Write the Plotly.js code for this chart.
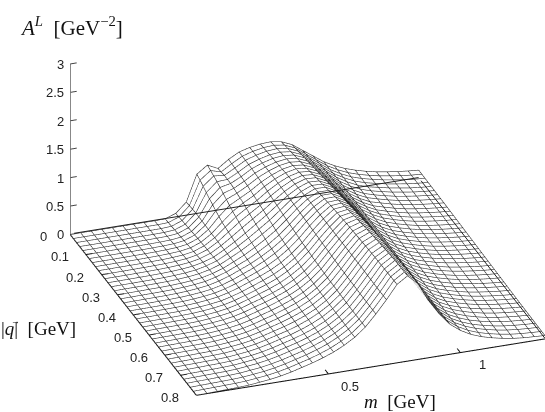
<!DOCTYPE html>
<html>
<head>
<meta charset="utf-8">
<script src="https://cdn.plot.ly/plotly-3.0.1.min.js"></script>
<style>
	html, body { margin: 0; padding: 0; background: #fff; }
	#graphic { width: 545px; height: 412px; }
</style>
</head>
<body>
<div id="graphic"></div>
<script>
var qValues = [0, 0.04, 0.08, 0.12, 0.16, 0.2, 0.24, 0.28, 0.32, 0.36, 0.4, 0.44, 0.48, 0.52, 0.56, 0.6, 0.64, 0.68, 0.72, 0.76, 0.8];
var qBetween = [0.02, 0.06, 0.1, 0.14, 0.18, 0.22, 0.26, 0.3, 0.34, 0.38, 0.42, 0.46, 0.5, 0.54, 0.58, 0.62, 0.66, 0.7, 0.74, 0.78];
var mValues = [0, 0.04, 0.08, 0.12, 0.16, 0.2, 0.24, 0.28, 0.32, 0.36, 0.4, 0.44, 0.48, 0.52, 0.56, 0.6, 0.64, 0.68, 0.72, 0.76, 0.8, 0.84, 0.88, 0.92, 0.96, 1, 1.04, 1.08, 1.12, 1.16, 1.2, 1.24, 1.28, 1.32];

// one line per m value, one column per q value
var spectral = [
	[0, 0, 0, 0, 0, 0, 0, 0, 0, 0, 0, 0, 0, 0, 0, 0, 0, 0, 0, 0, 0],
	[0, 0, 0, 0, 0.001, 0.001, 0.002, 0.002, 0.002, 0.003, 0.003, 0.003, 0.003, 0.004, 0.004, 0.004, 0.004, 0.005, 0.005, 0.005, 0.005],
	[0, 0, 0.001, 0.001, 0.002, 0.002, 0.003, 0.003, 0.004, 0.004, 0.005, 0.005, 0.006, 0.006, 0.007, 0.007, 0.008, 0.008, 0.009, 0.009, 0.01],
	[0, 0.001, 0.001, 0.002, 0.003, 0.004, 0.005, 0.005, 0.006, 0.007, 0.008, 0.008, 0.009, 0.01, 0.011, 0.011, 0.012, 0.013, 0.014, 0.014, 0.015],
	[0, 0.001, 0.002, 0.003, 0.005, 0.006, 0.007, 0.008, 0.009, 0.01, 0.011, 0.012, 0.013, 0.014, 0.015, 0.016, 0.017, 0.017, 0.018, 0.019, 0.02],
	[0, 0.001, 0.003, 0.005, 0.007, 0.009, 0.011, 0.012, 0.014, 0.015, 0.017, 0.018, 0.02, 0.021, 0.023, 0.024, 0.025, 0.026, 0.028, 0.029, 0.03],
	[0, 0.002, 0.004, 0.007, 0.011, 0.014, 0.018, 0.021, 0.024, 0.027, 0.03, 0.032, 0.035, 0.037, 0.039, 0.041, 0.043, 0.045, 0.047, 0.048, 0.05],
	[0, 0.003, 0.006, 0.012, 0.018, 0.024, 0.03, 0.035, 0.04, 0.044, 0.048, 0.052, 0.055, 0.058, 0.06, 0.062, 0.064, 0.066, 0.068, 0.069, 0.07],
	[0, 0.004, 0.01, 0.02, 0.03, 0.04, 0.05, 0.058, 0.065, 0.07, 0.075, 0.08, 0.085, 0.088, 0.09, 0.093, 0.095, 0.098, 0.1, 0.1, 0.1],
	[0.005, 0.015, 0.03, 0.045, 0.06, 0.075, 0.09, 0.1, 0.11, 0.115, 0.12, 0.125, 0.13, 0.133, 0.135, 0.138, 0.14, 0.14, 0.14, 0.14, 0.14],
	[0.07, 0.085, 0.1, 0.115, 0.13, 0.14, 0.15, 0.16, 0.17, 0.175, 0.18, 0.185, 0.19, 0.19, 0.19, 0.19, 0.19, 0.19, 0.19, 0.19, 0.19],
	[0.24, 0.255, 0.26, 0.255, 0.25, 0.25, 0.25, 0.25, 0.25, 0.25, 0.25, 0.248, 0.245, 0.245, 0.245, 0.243, 0.24, 0.24, 0.24, 0.24, 0.24],
	[0.7, 0.63, 0.55, 0.48, 0.42, 0.39, 0.36, 0.345, 0.33, 0.325, 0.32, 0.315, 0.31, 0.31, 0.31, 0.305, 0.3, 0.3, 0.3, 0.3, 0.3],
	[0.83, 0.78, 0.72, 0.65, 0.58, 0.53, 0.48, 0.455, 0.43, 0.415, 0.4, 0.39, 0.385, 0.382, 0.38, 0.378, 0.375, 0.372, 0.37, 0.37, 0.37],
	[0.74, 0.76, 0.76, 0.73, 0.7, 0.65, 0.61, 0.575, 0.54, 0.52, 0.5, 0.49, 0.48, 0.475, 0.47, 0.468, 0.465, 0.462, 0.46, 0.46, 0.46],
	[0.87, 0.86, 0.85, 0.83, 0.8, 0.77, 0.74, 0.7, 0.67, 0.65, 0.63, 0.615, 0.6, 0.595, 0.59, 0.585, 0.58, 0.578, 0.575, 0.572, 0.57],
	[0.97, 0.965, 0.96, 0.945, 0.93, 0.905, 0.88, 0.855, 0.83, 0.81, 0.79, 0.775, 0.76, 0.75, 0.74, 0.735, 0.73, 0.725, 0.72, 0.72, 0.72],
	[1.02, 1.025, 1.03, 1.03, 1.03, 1.025, 1.02, 1.01, 1, 0.99, 0.98, 0.97, 0.96, 0.95, 0.94, 0.935, 0.93, 0.925, 0.92, 0.92, 0.92],
	[1.05, 1.065, 1.08, 1.095, 1.11, 1.12, 1.13, 1.14, 1.15, 1.15, 1.15, 1.15, 1.15, 1.15, 1.15, 1.15, 1.15, 1.145, 1.14, 1.14, 1.14],
	[1.06, 1.08, 1.1, 1.125, 1.15, 1.175, 1.2, 1.225, 1.25, 1.27, 1.29, 1.305, 1.32, 1.33, 1.34, 1.35, 1.36, 1.365, 1.37, 1.375, 1.38],
	[1.03, 1.055, 1.08, 1.105, 1.13, 1.16, 1.19, 1.22, 1.25, 1.28, 1.31, 1.34, 1.37, 1.395, 1.42, 1.44, 1.46, 1.475, 1.49, 1.495, 1.5],
	[0.95, 0.975, 1, 1.025, 1.05, 1.075, 1.1, 1.125, 1.15, 1.175, 1.2, 1.225, 1.25, 1.27, 1.29, 1.3, 1.31, 1.32, 1.33, 1.33, 1.33],
	[0.82, 0.835, 0.85, 0.87, 0.89, 0.905, 0.92, 0.935, 0.95, 0.96, 0.97, 0.98, 0.99, 0.995, 1, 1, 1, 1, 1, 1, 1],
	[0.69, 0.7, 0.71, 0.72, 0.73, 0.735, 0.74, 0.745, 0.75, 0.75, 0.75, 0.75, 0.75, 0.75, 0.75, 0.745, 0.74, 0.74, 0.74, 0.74, 0.74],
	[0.56, 0.565, 0.57, 0.57, 0.57, 0.57, 0.57, 0.57, 0.57, 0.565, 0.56, 0.555, 0.55, 0.55, 0.55, 0.545, 0.54, 0.535, 0.53, 0.53, 0.53],
	[0.46, 0.46, 0.46, 0.455, 0.45, 0.45, 0.45, 0.445, 0.44, 0.435, 0.43, 0.425, 0.42, 0.415, 0.41, 0.405, 0.4, 0.395, 0.39, 0.39, 0.39],
	[0.38, 0.375, 0.37, 0.365, 0.36, 0.36, 0.36, 0.355, 0.35, 0.345, 0.34, 0.335, 0.33, 0.325, 0.32, 0.315, 0.31, 0.305, 0.3, 0.295, 0.29],
	[0.32, 0.315, 0.31, 0.31, 0.31, 0.305, 0.3, 0.295, 0.29, 0.285, 0.28, 0.275, 0.27, 0.265, 0.26, 0.255, 0.25, 0.24, 0.23, 0.225, 0.22],
	[0.27, 0.27, 0.27, 0.265, 0.26, 0.255, 0.25, 0.245, 0.24, 0.235, 0.23, 0.225, 0.22, 0.215, 0.21, 0.205, 0.2, 0.19, 0.18, 0.175, 0.17],
	[0.23, 0.23, 0.23, 0.225, 0.22, 0.215, 0.21, 0.205, 0.2, 0.195, 0.19, 0.185, 0.18, 0.175, 0.17, 0.165, 0.16, 0.15, 0.14, 0.135, 0.13],
	[0.2, 0.2, 0.2, 0.195, 0.19, 0.185, 0.18, 0.175, 0.17, 0.165, 0.16, 0.155, 0.15, 0.145, 0.14, 0.135, 0.13, 0.12, 0.11, 0.105, 0.1],
	[0.175, 0.172, 0.17, 0.168, 0.165, 0.16, 0.155, 0.15, 0.145, 0.14, 0.135, 0.13, 0.125, 0.12, 0.115, 0.11, 0.105, 0.098, 0.09, 0.085, 0.08],
	[0.155, 0.152, 0.15, 0.148, 0.145, 0.14, 0.135, 0.13, 0.125, 0.12, 0.115, 0.11, 0.105, 0.1, 0.095, 0.09, 0.085, 0.08, 0.075, 0.072, 0.07],
	[0.14, 0.138, 0.135, 0.132, 0.13, 0.125, 0.12, 0.115, 0.11, 0.105, 0.1, 0.095, 0.09, 0.085, 0.08, 0.075, 0.07, 0.068, 0.065, 0.062, 0.06],
];

// the rows of wires that lie between the q values above, one column per qBetween value
var spectralBetween = [
	[0, 0, 0, 0, 0, 0, 0, 0, 0, 0, 0, 0, 0, 0, 0, 0, 0, 0, 0, 0],
	[0, 0, 0, 0, 0.001, 0.001, 0.002, 0.002, 0.002, 0.003, 0.003, 0.003, 0.003, 0.004, 0.004, 0.004, 0.004, 0.005, 0.005, 0.005],
	[0, 0, 0.001, 0.001, 0.002, 0.002, 0.003, 0.003, 0.004, 0.004, 0.005, 0.005, 0.006, 0.006, 0.007, 0.007, 0.008, 0.008, 0.009, 0.01],
	[0, 0.001, 0.002, 0.002, 0.003, 0.004, 0.005, 0.006, 0.006, 0.007, 0.008, 0.009, 0.01, 0.01, 0.011, 0.012, 0.013, 0.013, 0.014, 0.015],
	[0, 0.001, 0.002, 0.004, 0.005, 0.006, 0.007, 0.008, 0.009, 0.01, 0.011, 0.012, 0.013, 0.014, 0.015, 0.016, 0.017, 0.018, 0.019, 0.02],
	[0.001, 0.002, 0.004, 0.006, 0.008, 0.01, 0.011, 0.013, 0.014, 0.016, 0.017, 0.019, 0.02, 0.022, 0.023, 0.024, 0.025, 0.027, 0.028, 0.03],
	[0.001, 0.003, 0.005, 0.009, 0.012, 0.016, 0.019, 0.022, 0.025, 0.028, 0.031, 0.033, 0.036, 0.038, 0.04, 0.042, 0.044, 0.046, 0.048, 0.049],
	[0.001, 0.004, 0.009, 0.015, 0.021, 0.027, 0.032, 0.037, 0.042, 0.046, 0.05, 0.053, 0.056, 0.059, 0.061, 0.063, 0.065, 0.067, 0.068, 0.07],
	[0.002, 0.007, 0.015, 0.025, 0.035, 0.045, 0.054, 0.061, 0.067, 0.072, 0.077, 0.082, 0.086, 0.089, 0.091, 0.094, 0.096, 0.099, 0.1, 0.1],
	[0.01, 0.022, 0.037, 0.052, 0.067, 0.082, 0.095, 0.105, 0.112, 0.118, 0.122, 0.127, 0.131, 0.134, 0.136, 0.139, 0.14, 0.14, 0.14, 0.14],
	[0.077, 0.092, 0.107, 0.122, 0.135, 0.145, 0.155, 0.165, 0.172, 0.178, 0.182, 0.187, 0.19, 0.19, 0.19, 0.19, 0.19, 0.19, 0.19, 0.19],
	[0.248, 0.258, 0.258, 0.252, 0.25, 0.25, 0.25, 0.25, 0.25, 0.25, 0.249, 0.246, 0.245, 0.245, 0.244, 0.242, 0.24, 0.24, 0.24, 0.24],
	[0.665, 0.59, 0.515, 0.45, 0.405, 0.375, 0.352, 0.337, 0.327, 0.322, 0.317, 0.312, 0.31, 0.31, 0.307, 0.302, 0.3, 0.3, 0.3, 0.3],
	[0.805, 0.75, 0.685, 0.615, 0.555, 0.505, 0.467, 0.442, 0.422, 0.407, 0.395, 0.387, 0.383, 0.381, 0.379, 0.376, 0.373, 0.371, 0.37, 0.37],
	[0.75, 0.76, 0.745, 0.715, 0.675, 0.63, 0.592, 0.557, 0.53, 0.51, 0.495, 0.485, 0.477, 0.472, 0.469, 0.466, 0.463, 0.461, 0.46, 0.46],
	[0.865, 0.855, 0.84, 0.815, 0.785, 0.755, 0.72, 0.685, 0.66, 0.64, 0.622, 0.607, 0.597, 0.592, 0.587, 0.582, 0.579, 0.576, 0.573, 0.571],
	[0.967, 0.962, 0.952, 0.937, 0.917, 0.892, 0.867, 0.842, 0.82, 0.8, 0.782, 0.767, 0.755, 0.745, 0.737, 0.732, 0.727, 0.722, 0.72, 0.72],
	[1.022, 1.027, 1.03, 1.03, 1.027, 1.022, 1.015, 1.005, 0.995, 0.985, 0.975, 0.965, 0.955, 0.945, 0.937, 0.932, 0.927, 0.922, 0.92, 0.92],
	[1.057, 1.072, 1.087, 1.102, 1.115, 1.125, 1.135, 1.145, 1.15, 1.15, 1.15, 1.15, 1.15, 1.15, 1.15, 1.15, 1.147, 1.142, 1.14, 1.14],
	[1.07, 1.09, 1.112, 1.137, 1.162, 1.187, 1.212, 1.237, 1.26, 1.28, 1.297, 1.312, 1.325, 1.335, 1.345, 1.355, 1.362, 1.367, 1.372, 1.377],
	[1.042, 1.067, 1.092, 1.117, 1.145, 1.175, 1.205, 1.235, 1.265, 1.295, 1.325, 1.355, 1.382, 1.407, 1.43, 1.45, 1.467, 1.482, 1.492, 1.497],
	[0.962, 0.987, 1.012, 1.037, 1.062, 1.087, 1.112, 1.137, 1.162, 1.187, 1.212, 1.237, 1.26, 1.28, 1.295, 1.305, 1.315, 1.325, 1.33, 1.33],
	[0.827, 0.842, 0.86, 0.88, 0.897, 0.912, 0.927, 0.942, 0.955, 0.965, 0.975, 0.985, 0.992, 0.997, 1, 1, 1, 1, 1, 1],
	[0.695, 0.705, 0.715, 0.725, 0.732, 0.737, 0.742, 0.747, 0.75, 0.75, 0.75, 0.75, 0.75, 0.75, 0.747, 0.742, 0.74, 0.74, 0.74, 0.74],
	[0.562, 0.567, 0.57, 0.57, 0.57, 0.57, 0.57, 0.57, 0.567, 0.562, 0.557, 0.552, 0.55, 0.55, 0.547, 0.542, 0.537, 0.532, 0.53, 0.53],
	[0.46, 0.46, 0.457, 0.452, 0.45, 0.45, 0.447, 0.442, 0.437, 0.432, 0.427, 0.422, 0.417, 0.412, 0.407, 0.402, 0.397, 0.392, 0.39, 0.39],
	[0.377, 0.372, 0.367, 0.362, 0.36, 0.36, 0.357, 0.352, 0.347, 0.342, 0.337, 0.332, 0.327, 0.322, 0.317, 0.312, 0.307, 0.302, 0.297, 0.292],
	[0.317, 0.312, 0.31, 0.31, 0.307, 0.302, 0.297, 0.292, 0.287, 0.282, 0.277, 0.272, 0.267, 0.262, 0.257, 0.252, 0.245, 0.235, 0.227, 0.222],
	[0.27, 0.27, 0.267, 0.262, 0.257, 0.252, 0.247, 0.242, 0.237, 0.232, 0.227, 0.222, 0.217, 0.212, 0.207, 0.202, 0.195, 0.185, 0.177, 0.172],
	[0.23, 0.23, 0.227, 0.222, 0.217, 0.212, 0.207, 0.202, 0.197, 0.192, 0.187, 0.182, 0.177, 0.172, 0.167, 0.162, 0.155, 0.145, 0.137, 0.132],
	[0.2, 0.2, 0.197, 0.192, 0.187, 0.182, 0.177, 0.172, 0.167, 0.162, 0.157, 0.152, 0.147, 0.142, 0.137, 0.132, 0.125, 0.115, 0.107, 0.102],
	[0.173, 0.171, 0.169, 0.166, 0.162, 0.157, 0.152, 0.147, 0.142, 0.137, 0.132, 0.127, 0.122, 0.117, 0.112, 0.107, 0.101, 0.094, 0.087, 0.082],
	[0.153, 0.151, 0.149, 0.146, 0.142, 0.137, 0.132, 0.127, 0.122, 0.117, 0.112, 0.107, 0.102, 0.097, 0.092, 0.087, 0.082, 0.077, 0.073, 0.071],
	[0.139, 0.136, 0.133, 0.131, 0.127, 0.122, 0.117, 0.112, 0.107, 0.102, 0.097, 0.092, 0.087, 0.082, 0.077, 0.072, 0.069, 0.066, 0.063, 0.061],
];

var qTicks = [0, 0.1, 0.2, 0.3, 0.4, 0.5, 0.6, 0.7, 0.8];
var mTicks = [0.5, 1];
var zTicks = [0, 0.5, 1, 1.5, 2, 2.5, 3];

var qMax = 0.8;
var mMax = 1.32;

// white sheet just under the wires so they do not fight for depth
var surface = {
	type: "surface",
	x: qValues,
	y: mValues,
	z: spectral.map(function (row) {
		return row.map(function (v) { return v - 0.012; });
	}),
	showscale: false,
	hoverinfo: "skip",
	colorscale: [[0, "#fff"], [1, "#fff"]],
	lighting: { ambient: 1, diffuse: 0, specular: 0, fresnel: 0, roughness: 1 },
};

function axisLine(x, y, z, color, width) {
	return {
		type: "scatter3d",
		mode: "lines",
		x: x,
		y: y,
		z: z,
		hoverinfo: "skip",
		showlegend: false,
		line: { color: color, width: width },
	};
}

// wireframe, one polyline per grid row and per grid column
var wx = [], wy = [], wz = [];
mValues.forEach(function (m, i) {
	qValues.forEach(function (q, j) {
		wx.push(q); wy.push(m); wz.push(spectral[i][j]);
	});
	wx.push(null); wy.push(null); wz.push(null);
});
qValues.forEach(function (q, j) {
	mValues.forEach(function (m, i) {
		wx.push(q); wy.push(m); wz.push(spectral[i][j]);
	});
	wx.push(null); wy.push(null); wz.push(null);
});
qBetween.forEach(function (q, j) {
	mValues.forEach(function (m, i) {
		wx.push(q); wy.push(m); wz.push(spectralBetween[i][j]);
	});
	wx.push(null); wy.push(null); wz.push(null);
});

var xs = [], ys = [], zs = [];
qTicks.forEach(function (t) {
	xs.push(t, t, null); ys.push(0, 0.025, null); zs.push(0, 0, null);
});
mTicks.forEach(function (t) {
	xs.push(qMax, qMax - 0.02, null); ys.push(t, t, null); zs.push(0, 0, null);
});

var traces = [
	surface,
	axisLine(wx, wy, wz, "#2a2a2a", 1.2),
	axisLine([0, qMax], [0, 0], [0, 0], "#111", 2),
	axisLine([qMax, qMax], [0, mMax], [0, 0], "#111", 2),
	axisLine([0, 0], [0, 0], [0, 3], "#777", 3),
	axisLine(xs, ys, zs, "#111", 2),
	axisLine(
		zTicks.reduce(function (a) { return a.concat([0, 0, null]); }, []),
		zTicks.reduce(function (a) { return a.concat([0, 0.025, null]); }, []),
		zTicks.reduce(function (a, t) { return a.concat([t, t, null]); }, []),
		"#444", 2
	),
];

var sceneNotes = [];
qTicks.forEach(function (t) {
	sceneNotes.push({ x: t, y: 0, z: 0, text: String(t), showarrow: false, xshift: -26, yshift: -3 });
});
mTicks.forEach(function (t) {
	sceneNotes.push({ x: qMax, y: t, z: 0, text: String(t), showarrow: false, xshift: 22, yshift: -13 });
});
zTicks.forEach(function (t) {
	sceneNotes.push({ x: 0, y: 0, z: t, text: String(t), showarrow: false, xanchor: "right", xshift: -4, yshift: -1 });
});
// back edges of the base sit on top of the surface
sceneNotes.push({ x: 0, y: mMax, z: 0, text: "", showarrow: true, arrowhead: 0, arrowwidth: 1, arrowcolor: "#222", ax: -346, ay: 56, standoff: 0 });
sceneNotes.push({ x: qMax, y: mMax, z: 0, text: "", showarrow: true, arrowhead: 0, arrowwidth: 1, arrowcolor: "#222", ax: -125, ay: -159, standoff: 0 });

var hiddenAxis = function (range) {
	return { visible: false, range: range, autorange: false };
};

var serif = "Liberation Serif, serif";

function label(x, y, text, size) {
	return {
		xref: "paper",
		yref: "paper",
		x: x / 545,
		y: 1 - y / 412,
		xanchor: "left",
		yanchor: "middle",
		text: text,
		showarrow: false,
		borderpad: 0,
		font: { family: serif, size: size, color: "#111" },
	};
}

var layout = {
	width: 545,
	height: 412,
	margin: { l: 0, r: 0, t: 0, b: 0 },
	paper_bgcolor: "#fff",
	showlegend: false,
	font: { family: "Liberation Sans, Arial, sans-serif", size: 13, color: "#222" },
	scene: {
		domain: { x: [0.128, 1], y: [0.026, 0.996] },
		bgcolor: "#fff",
		aspectmode: "manual",
		aspectratio: { x: 1.88, y: 1.85, z: 0.976 },
		camera: {
			projection: { type: "orthographic" },
			up: { x: 0, y: 0, z: 1 },
			center: { x: 0, y: 0, z: 0 },
			eye: { x: 1.678, y: -0.598, z: 0.908 },
		},
		xaxis: hiddenAxis([0, qMax]),
		yaxis: hiddenAxis([0, mMax]),
		zaxis: hiddenAxis([-0.04, 3.02]),
		annotations: sceneNotes,
	},
	annotations: [
		label(19, 27, "<i>A</i><sup><i>L</i></sup>  [GeV<sup>−2</sup>]", 21),
		label(0, 328, "|<i>q</i>|  [GeV]", 19),
		label(10, 321, "→", 9),
		label(363, 401, "<i>m</i>  [GeV]", 19),
	],
};

var config = {
	responsive: false,
	displayModeBar: false,
	displaylogo: false,
};

Plotly.newPlot("graphic", traces, layout, config);
</script>
</body>
</html>
